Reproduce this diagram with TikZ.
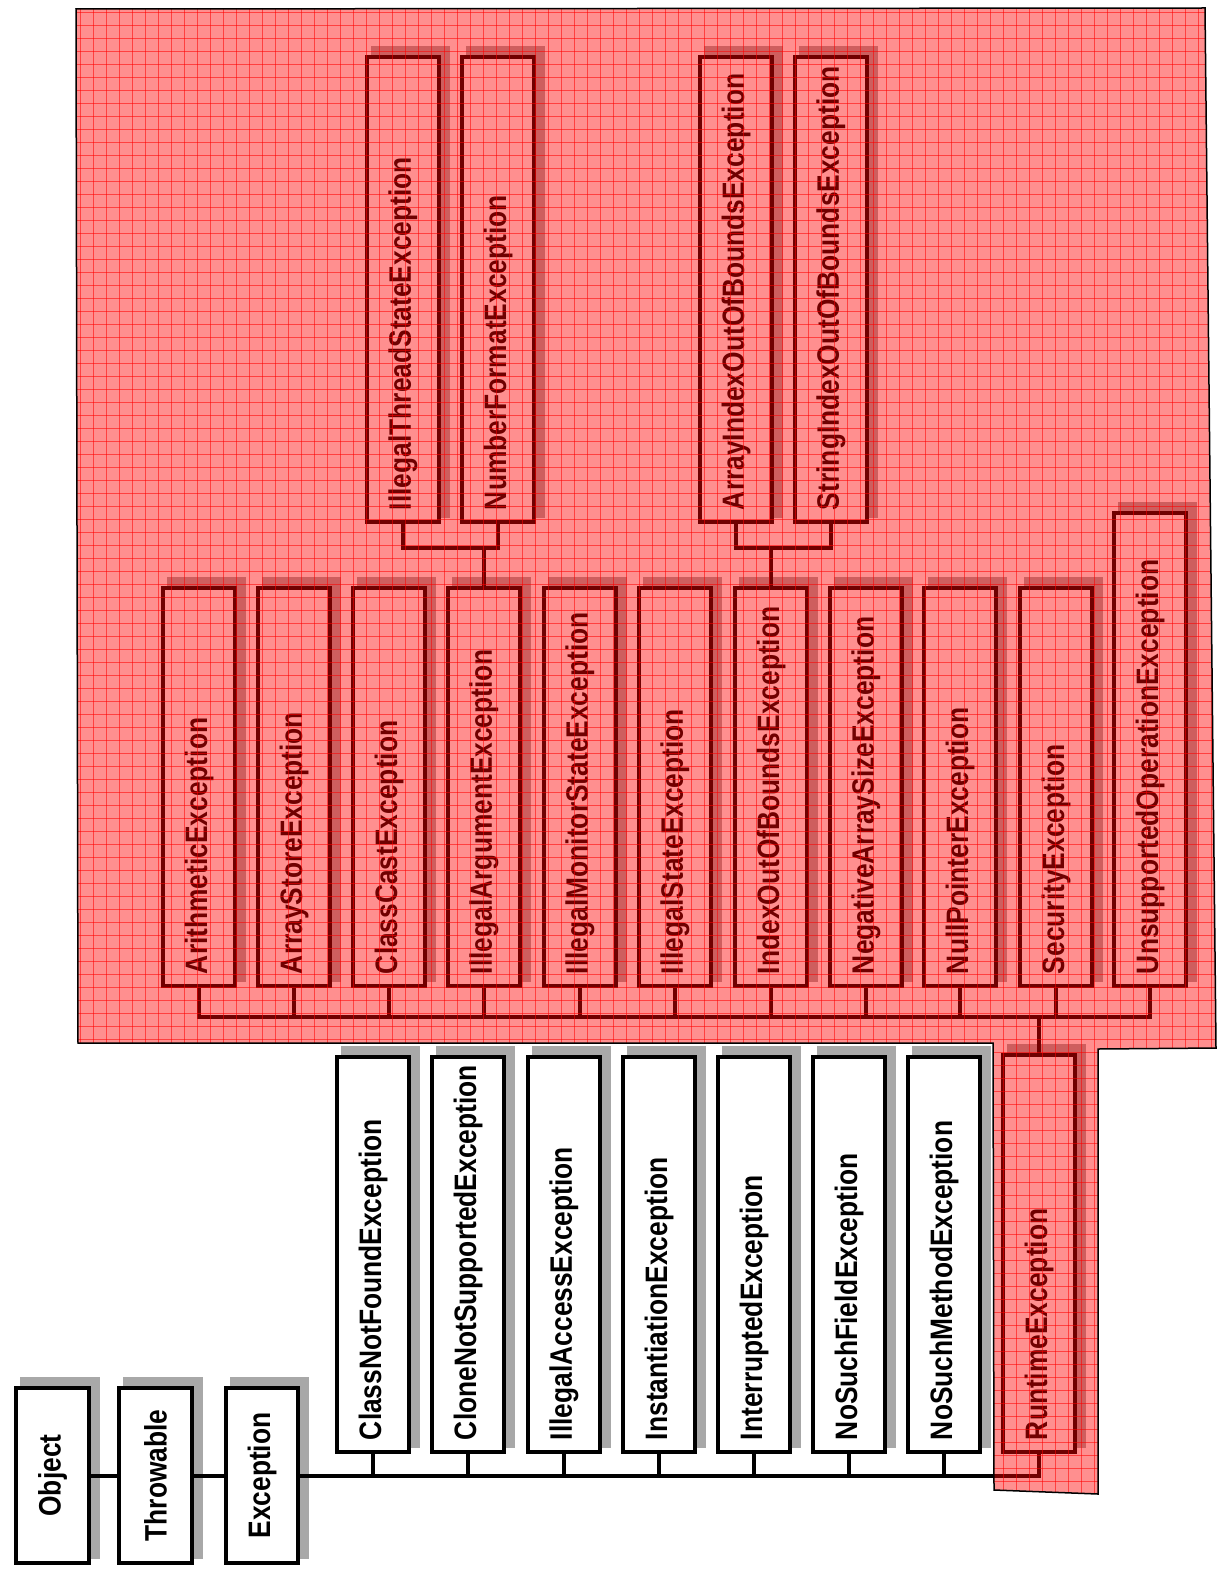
\documentclass[tikz,border=0pt]{standalone}
\usepackage{fontspec}
\newfontfamily\boxfont{Liberation Sans}[FakeStretch=0.85]
\newcommand\clsbox[7][align=left]{%
  \pgfmathsetmacro\cbw{#5-#3}%
  \pgfmathsetmacro\cbt{#6-#4-24}%
  \pgfmathsetmacro\cbx{(#3+#5)/2}%
  \pgfmathsetmacro\cby{(#4+#6)/2}%
  \fill[boxshadow] (#3+4,#4-11) rectangle (#5+11,#6-4);
  \node[cls,#1,minimum height=\cbw pt,text width=\cbt pt] (#2) at (\cbx,\cby) {#7};
}
\begin{document}
\begin{tikzpicture}[x=1pt,y=-1pt,
  cls/.style={draw=black,line width=3.8pt,fill=white,rotate=90,inner xsep=12pt,inner ysep=0pt,
    font=\boxfont\bfseries\fontsize{31}{33}\selectfont,text=black},
  boxshadow/.style={fill=black!34},
  conn/.style={draw=black,line width=4pt},
  redzone/.style={fill=red,fill opacity=0.44},
  zonegrid/.style={draw=red,line width=0.9pt,draw opacity=0.55},
  zoneline/.style={draw=black,line width=1.5pt}]
\fill[white] (0,0) rectangle (1223,1573);
\useasboundingbox (0,0) rectangle (1223,1573);

% root chain
\clsbox[align=center]{obj}{16}{1388}{89}{1563}{Object}
\clsbox[align=center]{thr}{119}{1388}{192}{1563}{Throwable}
\clsbox[align=center]{exc}{226}{1388}{298}{1563}{Exception}

% checked exceptions
\clsbox{cnf}{337}{1057}{409}{1452}{ClassNotFoundException}
\clsbox{cns}{432}{1057}{504}{1452}{CloneNotSupportedException}
\clsbox{iacc}{528}{1057}{600}{1452}{IllegalAccessException}
\clsbox{inst}{623}{1057}{695}{1452}{InstantiationException}
\clsbox{intr}{718}{1057}{790}{1452}{InterruptedException}
\clsbox{nsf}{813}{1057}{885}{1452}{NoSuchFieldException}
\clsbox{nsm}{908}{1057}{980}{1452}{NoSuchMethodException}
\clsbox{rte}{1003}{1055}{1075}{1452}{RuntimeException}

% runtime exceptions
\clsbox{arith}{163}{588}{235}{986}{ArithmeticException}
\clsbox{astore}{258}{588}{330}{986}{ArrayStoreException}
\clsbox{ccast}{353}{588}{425}{986}{ClassCastException}
\clsbox{iarg}{448}{588}{520}{986}{IllegalArgumentException}
\clsbox{imon}{544}{588}{616}{986}{IllegalMonitorStateException}
\clsbox{istate}{639}{588}{711}{986}{IllegalStateException}
\clsbox{ioob}{735}{588}{807}{986}{IndexOutOfBoundsException}
\clsbox{neg}{830}{588}{902}{986}{NegativeArraySizeException}
\clsbox{npe}{924}{588}{996}{986}{NullPointerException}
\clsbox{sec}{1020}{588}{1092}{986}{SecurityException}
\clsbox{unsup}{1114}{513}{1186}{986}{UnsupportedOperationException}

% third level
\clsbox{its}{367}{57}{439}{522}{IllegalThreadStateException}
\clsbox{nfe}{462}{57}{534}{522}{NumberFormatException}
\clsbox{aioobe}{700}{57}{772}{522}{ArrayIndexOutOfBoundsException}
\clsbox{sioobe}{795}{57}{867}{522}{StringIndexOutOfBoundsException}

% connectors
\coordinate (ubus) at (0,1017);
\coordinate (tbus) at (0,548);
\draw[conn] (obj.south) -- (thr.north);
\draw[conn] (thr.south) -- (exc.north);
\draw[conn] (exc.south) -| (rte.west);
\foreach \n in {cnf,cns,iacc,inst,intr,nsf,nsm}
  \draw[conn] (\n.west) -- (\n.west |- exc.south);
\draw[conn] (arith.west) -- (arith.west |- ubus) -- (unsup.west |- ubus) -- (unsup.west);
\foreach \n in {astore,ccast,iarg,imon,istate,ioob,neg,npe,sec}
  \draw[conn] (\n.west) -- (\n.west |- ubus);
\draw[conn] (rte.east) -- (rte.east |- ubus);
\draw[conn] (its.west) -- (its.west |- tbus) -- (nfe.west |- tbus) -- (nfe.west);
\draw[conn] (iarg.east) -- (iarg.east |- tbus);
\draw[conn] (aioobe.west) -- (aioobe.west |- tbus) -- (sioobe.west |- tbus) -- (sioobe.west);
\draw[conn] (ioob.east) -- (ioob.east |- tbus);

% highlighted region
\fill[redzone] (76,9) -- (1205,8) -- (1216,1048) -- (1098,1049) -- (1098,1494) -- (994,1490) -- (993,1043) -- (78,1043) -- cycle;
\begin{scope}
  \clip (76,9) -- (1205,8) -- (1216,1048) -- (1098,1049) -- (1098,1494) -- (994,1490) -- (993,1043) -- (78,1043) -- cycle;
  \foreach \gx in {80,93,...,1220} \draw[zonegrid] (\gx,0) -- (\gx,1500);
  \foreach \gy in {12,25,...,1500} \draw[zonegrid] (70,\gy) -- (1220,\gy);
\end{scope}
\draw[zoneline] (76,9) -- (1205,8) -- (1216,1048) -- (1098,1049) -- (1098,1494) -- (994,1490) -- (993,1043) -- (78,1043) -- cycle;
\end{tikzpicture}
\end{document}
